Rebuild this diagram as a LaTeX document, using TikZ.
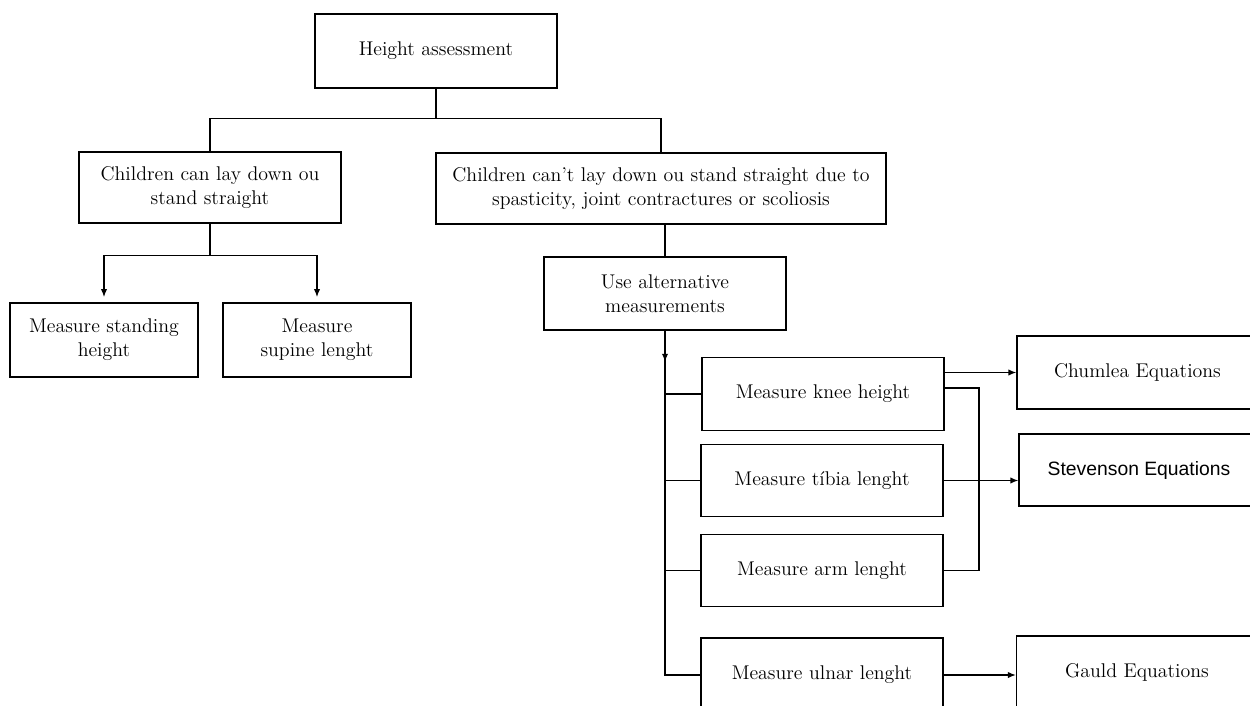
\documentclass[tikz,border=0pt]{standalone}
\usepackage{fontspec}
\newfontfamily\arialsans{Liberation Sans}
\usetikzlibrary{arrows.meta}
\usetikzlibrary{calc}

\begin{document}
\begin{tikzpicture}[x=0.02cm, y=-0.02cm, line width=0.7pt,
    >={Latex[length=4.5pt,width=3.6pt]},
    box/.style={draw, line width=0.8pt, align=center, inner sep=2pt,
      font=\fontsize{11.3}{13.6}\selectfont},
    mbox/.style={box, minimum width=4.84cm, minimum height=1.45cm}]
  \useasboundingbox (0,0) rectangle (1250,706);
  \clip (0,0) rectangle (1250,706);

  % Top of the tree
  \node[box, minimum width=4.84cm, minimum height=1.48cm] (top) at (436,51) {Height assessment};
  \node[box, minimum width=5.24cm, minimum height=1.42cm] (can) at (210,187.5) {Children can lay down ou\\stand straight};
  \node[box, minimum width=9.0cm, minimum height=1.42cm] (cant) at (661,188.5) {Children can’t lay down ou stand straight due to\\spasticity, joint contractures or scoliosis};
  \draw (top.south) -- ++(0,30) -| (can.north);
  \draw (top.south) -- ++(0,30) -| (cant.north);

  % Left branch
  \node[box, minimum width=3.76cm, minimum height=1.48cm] (stand) at (104,340) {Measure standing\\height};
  \node[box, minimum width=3.76cm, minimum height=1.48cm] (supine) at (317,340) {Measure\\supine lenght};
  \draw[->] (can.south) -- ++(0,32) -| ([yshift=3pt]stand.north);
  \draw[->] (can.south) -- ++(0,32) -| ([yshift=3pt]supine.north);

  % Right branch
  \node[box, minimum width=4.84cm, minimum height=1.46cm] (alt) at (665,293.5) {Use alternative\\measurements};
  \draw (cant.south -| alt.north) -- (alt.north);

  \node[mbox] (knee) at (823,394) {Measure knee height};
  \node[mbox] (tibia) at (822,480.5) {Measure tíbia lenght};
  \node[mbox] (arm) at (822,570.5) {Measure arm lenght};
  \node[mbox, minimum height=1.48cm] (ulnar) at (822,675) {Measure ulnar lenght};

  \draw[->] (alt.south) -- ++(0,31);
  \draw (alt.south) |- (ulnar.west);
  \draw (alt.south |- knee.west) -- (knee.west);
  \draw (alt.south |- tibia.west) -- (tibia.west);
  \draw (alt.south |- arm.west) -- (arm.west);

  % Equations
  \node[box, minimum width=4.82cm, minimum height=1.46cm] (chumlea) at (1137.5,372.5) {Chumlea Equations};
  \node[box, minimum width=4.8cm, minimum height=1.44cm, font=\arialsans\fontsize{11}{13.6}\selectfont] (stevenson) at (1139,470) {Stevenson Equations};
  \node[box, minimum width=4.82cm, minimum height=1.46cm] (gauld) at (1137,672.5) {Gauld Equations};

  \coordinate (join) at (979,480.5);
  \draw[->] (knee.east |- chumlea.west) -- (chumlea.west);
  \draw ($(knee.east)+(0,-6)$) -| (join) |- (arm.east);
  \draw[->] (tibia.east) -- (tibia.east -| stevenson.west);
  \draw[->] (ulnar.east) -- (ulnar.east -| gauld.west);
\end{tikzpicture}
\end{document}
